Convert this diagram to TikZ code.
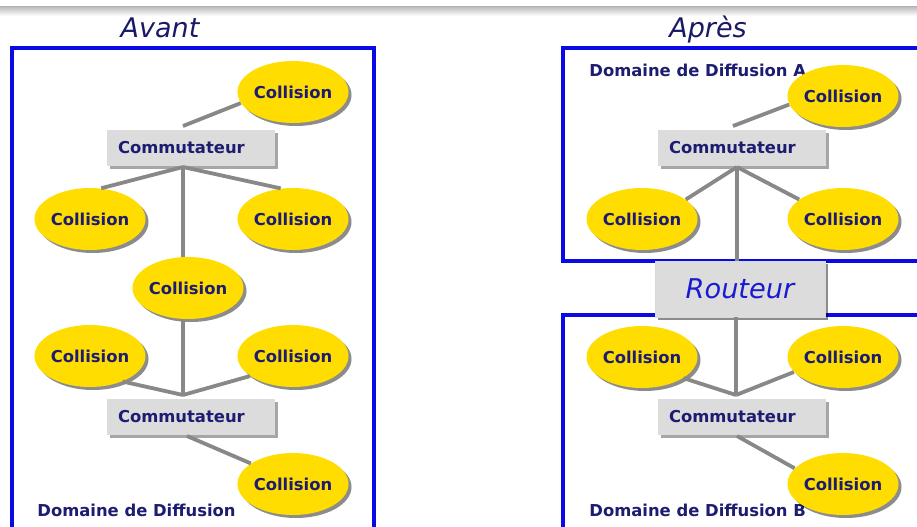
\documentclass[tikz,border=0pt]{standalone}
\usepackage{fontspec}
\setmainfont{DejaVu Sans}
\usetikzlibrary{shapes.geometric,shadows}

\definecolor{navy}{HTML}{1C1C70}
\definecolor{zoneblue}{HTML}{0A0AE6}
\definecolor{routblue}{HTML}{1A1AD0}
\definecolor{collyellow}{HTML}{FFDD00}
\definecolor{boxgray}{HTML}{DCDCDC}
\definecolor{wiregray}{HTML}{888888}

\begin{document}
\begin{tikzpicture}[x=0.5pt,y=-0.5pt,
	coll/.style={ellipse,fill=collyellow,minimum width=51pt,minimum height=31pt,inner sep=0pt,
		text=navy,font=\bfseries\fontsize{8.2}{10}\selectfont,
		drop shadow={shadow xshift=1.5pt,shadow yshift=-1.5pt,fill=black,opacity=0.45}},
	com/.style={rectangle,fill=boxgray,minimum height=18pt,text width=73pt,inner xsep=5.5pt,inner ysep=0pt,
		align=left,text=navy,font=\bfseries\fontsize{8.2}{10}\selectfont,
		drop shadow={shadow xshift=1.3pt,shadow yshift=-1.3pt,fill=black,opacity=0.35}},
	rout/.style={rectangle,fill=boxgray,draw=white!85!black,minimum width=85pt,minimum height=28pt,inner sep=0pt,
		text=routblue,font=\itshape\fontsize{13.6}{16}\selectfont,
		drop shadow={shadow xshift=1.5pt,shadow yshift=-1.5pt,fill=black,opacity=0.45}},
	wire/.style={draw=wiregray,line width=1.9pt},
	zone/.style={draw=zoneblue,line width=2pt},
	heading/.style={text=navy!90!black,font=\itshape\fontsize{13.5}{16}\selectfont},
	dom/.style={anchor=west,inner sep=0pt,text=navy,font=\bfseries\fontsize{8.2}{10}\selectfont}]
	\clip (0,0) rectangle (917,526);

	% top border
	\fill[top color=black!25,bottom color=white] (0,7) rectangle (917,16);
	\draw[black!30] (0,6.5) -- (917,6.5);

	% Avant
	\node[heading] (avant) at (160,28) {Avant};
	\draw[zone] (12,48) rectangle (374,560);

	\node[coll] (c1) at (293,92) {Collision};
	\node[com] (s1) at (191,148) {Commutateur};
	\node[coll] (c2) at (90,219) {Collision};
	\node[coll] (c3) at (293,219) {Collision};
	\node[coll] (c4) at (188,288) {Collision};
	\node[coll] (c5) at (90,356) {Collision};
	\node[coll] (c6) at (293,356) {Collision};
	\node[com] (s2) at (191,417) {Commutateur};
	\node[coll] (c7) at (293,484) {Collision};
	\node[dom] (d1) at (37,510) {Domaine de Diffusion};

	\coordinate (ja) at (183,126);
	\coordinate (jb) at (183,167);
	\coordinate (jc) at (183,395);
	\coordinate (jd) at (187,436);
	\draw[wire] (ja) -- (c1.192);
	\draw[wire] (jb) -- (c2.70);
	\draw[wire] (jb) -- (c3.112);
	\draw[wire] (jb) -- (jb |- c4.north);
	\draw[wire] (jc |- c4.south) -- (jc);
	\draw[wire] (c5.322) -- (jc);
	\draw[wire] (c6.205) -- (jc);
	\draw[wire] (jd) -- (c7.154);

	% Apres
	\node[heading] (apres) at (708,30) {Après};
	\draw[zone] (563,48) rectangle (940,261);
	\draw[zone] (563,315) rectangle (940,560);
	\node[dom] (d2) at (589,70) {Domaine de Diffusion A};
	\node[dom] (d3) at (589,510) {Domaine de Diffusion B};

	\node[coll] (c8) at (843,96) {Collision};
	\node[com] (s3) at (742,148) {Commutateur};
	\node[coll] (c9) at (642,219) {Collision};
	\node[coll] (c10) at (843,219) {Collision};
	\node[rout] (r1) at (740,289) {Routeur};
	\node[coll] (c11) at (642,357) {Collision};
	\node[coll] (c12) at (843,357) {Collision};
	\node[com] (s4) at (742,417) {Commutateur};
	\node[coll] (c13) at (843,484) {Collision};

	\coordinate (ka) at (733,126);
	\coordinate (kb) at (737,167);
	\coordinate (kc) at (736,395);
	\coordinate (kd) at (737,436);
	\draw[wire] (ka) -- (c8.189);
	\draw[wire] (kb) -- (c9.24);
	\draw[wire] (kb) -- (c10.156);
	\draw[wire] (kb) -- (kb |- r1.north);
	\draw[wire] (kc |- r1.south) -- (kc);
	\draw[wire] (c11.333) -- (kc);
	\draw[wire] (c12.197) -- (kc);
	\draw[wire] (kd) -- (c13.162);

\end{tikzpicture}
\end{document}
